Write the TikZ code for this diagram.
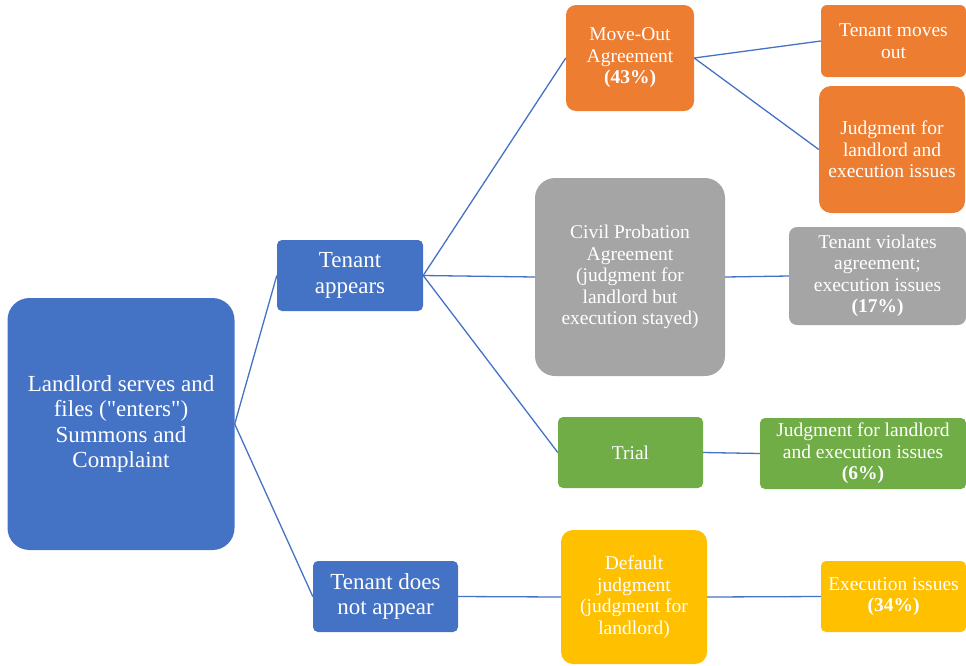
\documentclass[tikz,border=0pt]{standalone}
\usepackage{fontspec}
\setmainfont{Liberation Serif}
\usepackage{xcolor}
\usetikzlibrary{positioning,calc}

\definecolor{cblue}{HTML}{4472C4}
\definecolor{corange}{HTML}{ED7D31}
\definecolor{cgray}{HTML}{A5A5A5}
\definecolor{cgreen}{HTML}{70AD47}
\definecolor{cyellow}{HTML}{FFC000}

\tikzset{
    box/.style={text=white, align=center, inner sep=0pt, font=\fontsize{19.5}{21.5}\selectfont},
    bigbox/.style={box, font=\fontsize{23}{25.5}\selectfont},
    link/.style={draw=cblue, line width=1.3pt}
}

\begin{document}
\begin{tikzpicture}[x=1pt,y=-1pt]
    \useasboundingbox (0,0) rectangle (966,665);

    % first level
    \node[bigbox, fill=cblue, rounded corners=22pt, minimum width=227pt, minimum height=252pt] (root) at (121,424)
        {Landlord serves and\\files (\textquotedbl enters\textquotedbl)\\Summons and\\Complaint};
    \node[bigbox, fill=cblue, rounded corners=5pt, minimum width=146pt, minimum height=71pt] (appear) at (350,275.5)
        {Tenant\\appears};
    \node[bigbox, fill=cblue, rounded corners=5pt, minimum width=145pt, minimum height=71pt] (noappear) at (385.5,596.5)
        {Tenant does\\not appear};

    % second level
    \node[box, fill=corange, rounded corners=10pt, minimum width=128pt, minimum height=106pt] (moveout) at (630,58)
        {Move-Out\\Agreement\\\textbf{(43\%)}};
    \node[box, fill=cgray, rounded corners=20pt, minimum width=190pt, minimum height=198pt] (civil) at (630,277)
        {Civil Probation\\Agreement\\(judgment for\\landlord but\\execution stayed)};
    \node[box, fill=cgreen, rounded corners=5pt, minimum width=145pt, minimum height=71pt] (trial) at (630.5,452.5)
        {Trial};
    \node[box, fill=cyellow, rounded corners=12pt, minimum width=146pt, minimum height=134pt] (default) at (634,597)
        {Default\\judgment\\(judgment for\\landlord)};

    % outcomes
    \node[box, fill=corange, rounded corners=6pt, minimum width=145pt, minimum height=72pt] (movesout) at (893.5,41)
        {Tenant moves\\out};
    \node[box, fill=corange, rounded corners=12pt, minimum width=146pt, minimum height=127pt] (orangejudg) at (892,149.5)
        {Judgment for\\landlord and\\execution issues};
    \node[box, fill=cgray, rounded corners=8pt, minimum width=177pt, minimum height=98pt] (violates) at (877.5,276)
        {Tenant violates\\agreement;\\execution issues\\\textbf{(17\%)}};
    \node[box, fill=cgreen, rounded corners=5pt, minimum width=206pt, minimum height=71pt] (greenjudg) at (863,453.5)
        {Judgment for landlord\\and execution issues\\\textbf{(6\%)}};
    \node[box, fill=cyellow, rounded corners=5pt, minimum width=145pt, minimum height=71pt] (execution) at (893.5,596.5)
        {Execution issues\\\textbf{(34\%)}};

    % connectors
    \draw[link] (root.east) -- (appear.west);
    \draw[link] (root.east) -- (noappear.west);
    \draw[link] (appear.east) -- (moveout.west);
    \draw[link] (appear.east) -- (civil.west);
    \draw[link] (appear.east) -- (trial.west);
    \draw[link] (noappear.east) -- (default.west);
    \draw[link] (moveout.east) -- (movesout.west);
    \draw[link] (moveout.east) -- (orangejudg.west);
    \draw[link] (civil.east) -- (violates.west);
    \draw[link] (trial.east) -- (greenjudg.west);
    \draw[link] (default.east) -- (execution.west);
\end{tikzpicture}
\end{document}
